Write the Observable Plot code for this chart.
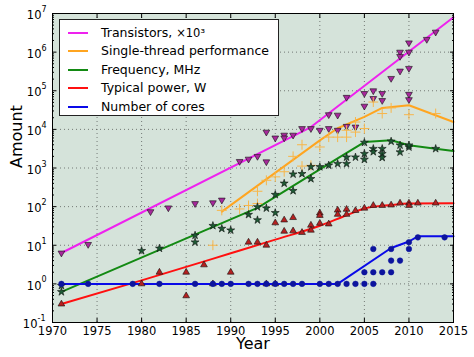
<!DOCTYPE html>
<html><head><meta charset="utf-8">
<script src="https://cdn.jsdelivr.net/npm/d3@7"></script>
<script src="https://cdn.jsdelivr.net/npm/@observablehq/plot@0.6"></script>
<style>
body{margin:0;background:#fff;font-family:"DejaVu Sans",sans-serif;}
#chart{position:relative;width:474px;height:357px;overflow:hidden;}
#chart svg{position:absolute;left:0;top:0;}
.legend{position:absolute;left:59px;top:19px;width:220px;height:97px;border:1px solid #222;background:#fff;box-sizing:border-box;font-family:"DejaVu Sans",sans-serif;font-size:12.5px;color:#000;}
.legend .row{position:absolute;left:0;height:18px;line-height:18px;white-space:nowrap;}
.legend .sw{position:absolute;left:8px;top:8px;width:20px;height:2px;}
.legend .tx{position:absolute;left:41px;top:0;}
.legend .m{font-size:11.5px;}
</style></head><body><div id="chart"></div><script>
// ---- tick labels ----
const xTickValues = [1970, 1975, 1980, 1985, 1990, 1995, 2000, 2005, 2010, 2015];
const yTickValues = [1e-1, 1e0, 1e1, 1e2, 1e3, 1e4, 1e5, 1e6, 1e7];

// ---- series names / colours ----
const seriesNames = ["Transistors, ", "Single-thread performance", "Frequency, MHz", "Typical power, W", "Number of cores"];
const lineColors = ["#ee22ee", "#ffa520", "#138a13", "#ff1010", "#0a0ae8"];

// ---- Transistors (x10^3) ----
const transYears = [1971,1974,1981,1983,1986,1988,1989,1991,1992,1993,1994,1994,1995,1996,1996,1997,1998,1999,2000,2001,2001,2002,2002,2003,2003,2004,2005,2005,2006,2006,2007,2007,2008,2009,2009,2009,2010,2010,2010,2010,2010,2012,2013];
const transValues = [6.3,10.5,74,93,120,126,148,1480,1700,2000,1450,8500,6000,7100,6000,7100,10500,10500,9500,10500,24000,9500,23400,12000,67600,11500,40000,85000,100000,63000,85000,56000,209000,1000000,776000,324000,1740000,1000000,380000,81000,59000,2140000,3300000];
const transFitYears = [1971, 1999, 2015];
const transFitValues = [6.3, 11500, 8000000];

// ---- Single-thread performance ----
const perfYears = [1988,1989,1991,1992,1993,1993,1994,1995,1996,1997,1998,1998,1999,2000,2001,2002,2003,2003,2004,2004,2005,2006,2007,2008,2010,2013];
const perfValues = [10,80,87,107,120,250,480,590,800,2000,1120,4000,1170,3500,6300,6300,6300,9500,8500,15500,10500,51000,25700,36000,24000,25700];
const perfFitYears = [1989, 2000, 2002, 2005, 2007, 2010, 2015];
const perfFitValues = [74, 5200, 10700, 21000, 36000, 42000, 15500];

// ---- Frequency, MHz ----
const freqYears = [1971,1971,1980,1982,1986,1986,1988,1989,1990,1992,1993,1993,1994,1995,1995,1996,1997,1997,1998,1999,1999,2000,2001,2002,2003,2003,2004,2005,2005,2005,2006,2006,2007,2007,2007,2008,2009,2009,2010,2010,2013];
const freqValues = [0.9,0.62,7.2,8.3,12,18,32,27,24.5,62,45,98,91,204,69,400,690,257,708,525,1070,1070,1175,1290,1290,1900,1900,2340,1660,4570,3160,2630,3160,2340,1860,4900,3890,2570,3470,3890,3160];
const freqFitYears = [1971, 1993, 2002, 2005, 2008, 2010, 2013, 2015];
const freqFitValues = [0.62, 93, 1780, 4700, 5250, 3900, 3160, 2750];

// ---- Typical power, W ----
const powerYears = [1971,1980,1982,1985,1985,1987,1988,1990,1992,1993,1994,1994,1995,1995,1996,1996,1997,1997,1998,1999,1999,2000,2000,2000,2001,2002,2002,2003,2003,2004,2005,2006,2007,2008,2009,2010,2010,2011,2013];
const powerValues = [0.3,1,2,2,0.49,3.1,1,2,12,12,10,1,38,1,45,23,52,23.5,21.4,33,24.5,68,59,37,35.5,81,63,85,63,79,91,107,107,110,123,123,107,123,123];
const powerFitYears = [1971, 1980, 1990, 1995, 2000, 2003, 2005, 2008, 2010, 2015];
const powerFitValues = [0.3, 1.23, 6.2, 14, 32, 60, 89, 110, 120, 123];

// ---- Number of cores ----
const coreYears = [1971,1974,1979,1982,1986,1988,1989,1990,1992,1993,1994,1995,1996,1997,1998,2000,2001,2002,2003,2004,2005,2006,2005,2006,2007,2008,2008,2009,2006,2008,2010,2010,2011,2014];
const coreValues = [1,1,1,1,1,1,1,1,1,1,1,1,1,1,1,1,1,1,1,1,1,1,2,2,2,2,4,4,8,8,8,12,16,16];
const coreFitYears = [1971, 2002, 2008, 2010, 2011, 2015];
const coreFitValues = [1, 1, 8.5, 12.5, 17, 17];

// ---- build tables ----
const zip = (xs, ys) => xs.map((x, i) => ({x, y: ys[i]}));
const trans = zip(transYears, transValues), transFit = zip(transFitYears, transFitValues);
const perf = zip(perfYears, perfValues), perfFit = zip(perfFitYears, perfFitValues);
const freq = zip(freqYears, freqValues), freqFit = zip(freqFitYears, freqFitValues);
const power = zip(powerYears, powerValues), powerFit = zip(powerFitYears, powerFitValues);
const cores = zip(coreYears, coreValues), coreFit = zip(coreFitYears, coreFitValues);

const sq3 = Math.sqrt(3);
const triangleDown = {
  draw(ctx, size) {
    const y = -Math.sqrt(size / (sq3 * 3));
    ctx.moveTo(0, -y * 2);
    ctx.lineTo(-sq3 * y, y);
    ctx.lineTo(sq3 * y, y);
    ctx.closePath();
  }
};

const expOf = d => String(Math.round(Math.log10(d)));
const posTicks = yTickValues.filter(d => d >= 1);   // single-digit exponents
const negTicks = yTickValues.filter(d => d < 1);    // "-1" exponent
const minorY = d3.scaleLog().domain([0.1, 1e7]).ticks().filter(v => !yTickValues.some(t => Math.abs(Math.log10(v) - Math.log10(t)) < 1e-6));

const lineOpts = (c) => ({x: "x", y: "y", stroke: c, strokeWidth: 2});
const tenOpts = (dx) => ({y: d => d, frameAnchor: "left", text: () => "10", textAnchor: "end", dx, fontSize: 11.5, lineAnchor: "middle", dy: 2});
const expOpts = (dx) => ({y: d => d, frameAnchor: "left", text: expOf, textAnchor: "start", dx, fontSize: 8, lineAnchor: "middle", dy: -4});

const chart = Plot.plot({
  width: 474, height: 357,
  marginLeft: 52, marginRight: 21, marginTop: 13, marginBottom: 35,
  style: {fontFamily: "DejaVu Sans", background: "transparent", color: "#000"},
  x: {domain: [1970, 2015]},
  y: {type: "log", domain: [0.1, 1e7]},
  marks: [
    Plot.frame({fill: "#d5e3da", stroke: null}),
    Plot.gridY(yTickValues, {stroke: "#333", strokeOpacity: 0.75, strokeWidth: 0.8, strokeDasharray: "1,3"}),
    Plot.gridX(xTickValues, {stroke: "#333", strokeOpacity: 0.75, strokeWidth: 0.8, strokeDasharray: "1,3"}),
    Plot.line(transFit, lineOpts(lineColors[0])),
    Plot.line(perfFit, lineOpts(lineColors[1])),
    Plot.line(freqFit, lineOpts(lineColors[2])),
    Plot.line(powerFit, {...lineOpts(lineColors[3]), curve: "monotone-x"}),
    Plot.line(coreFit, lineOpts(lineColors[4])),
    Plot.dot(trans, {x: "x", y: "y", symbol: triangleDown, r: 2.5, fill: "#a8289c", stroke: "#111", strokeWidth: 0.6}),
    Plot.dot(perf, {x: "x", y: "y", symbol: "plus", r: 3.3, stroke: "#f7b64a", strokeWidth: 1}),
    Plot.dot(freq, {x: "x", y: "y", symbol: "star", r: 2.5, fill: "#1d5a34", stroke: "#111", strokeWidth: 0.6}),
    Plot.dot(power, {x: "x", y: "y", symbol: "triangle", r: 2.5, fill: "#b52020", stroke: "#111", strokeWidth: 0.6}),
    Plot.dot(cores, {x: "x", y: "y", symbol: "circle", r: 2.8, fill: "#0d149e", stroke: "#0d149e", strokeWidth: 0.5}),
    // y tick labels: base "10" and raised exponent
    Plot.text(posTicks, tenOpts(-11)),
    Plot.text(posTicks, expOpts(-11)),
    Plot.text(negTicks, tenOpts(-15)),
    Plot.text(negTicks, expOpts(-15)),
    Plot.axisY(yTickValues, {anchor: "left", tickSize: -4, fill: "none"}),
    Plot.axisY(yTickValues, {anchor: "right", tickSize: -4, fill: "none"}),
    Plot.axisY(minorY, {anchor: "left", tickSize: -2, fill: "none"}),
    Plot.axisY(minorY, {anchor: "right", tickSize: -2, fill: "none"}),
    Plot.axisX(xTickValues, {anchor: "bottom", tickSize: 0, tickPadding: 4, tickFormat: d => String(d), fontSize: 11.5, label: null}),
    Plot.axisX(xTickValues, {anchor: "bottom", tickSize: -4, fill: "none"}),
    Plot.axisX(xTickValues, {anchor: "top", tickSize: -4, fill: "none"}),
    Plot.frame({stroke: "#000", strokeWidth: 1}),
    Plot.text(["Year"], {frameAnchor: "bottom", text: d => d, dy: 21, fontSize: 16, lineAnchor: "middle"}),
    Plot.text(["Amount"], {frameAnchor: "left", text: d => d, dx: -36, rotate: -90, fontSize: 16, lineAnchor: "middle"})
  ]
});

const root = document.getElementById("chart");
root.appendChild(chart);

const legend = document.createElement("div");
legend.className = "legend";
seriesNames.forEach((name, i) => {
  const row = document.createElement("div");
  row.className = "row";
  row.style.top = (3.5 + i * 18.6) + "px";
  const sw = document.createElement("div");
  sw.className = "sw"; sw.style.background = lineColors[i];
  const tx = document.createElement("div");
  tx.className = "tx"; tx.textContent = name;
  if (i === 0) {
    const m = document.createElement("span");
    m.className = "m"; m.textContent = "\u00D710\u00B3";
    tx.appendChild(m);
  }
  row.appendChild(sw); row.appendChild(tx);
  legend.appendChild(row);
});
root.appendChild(legend);
</script></body></html>
